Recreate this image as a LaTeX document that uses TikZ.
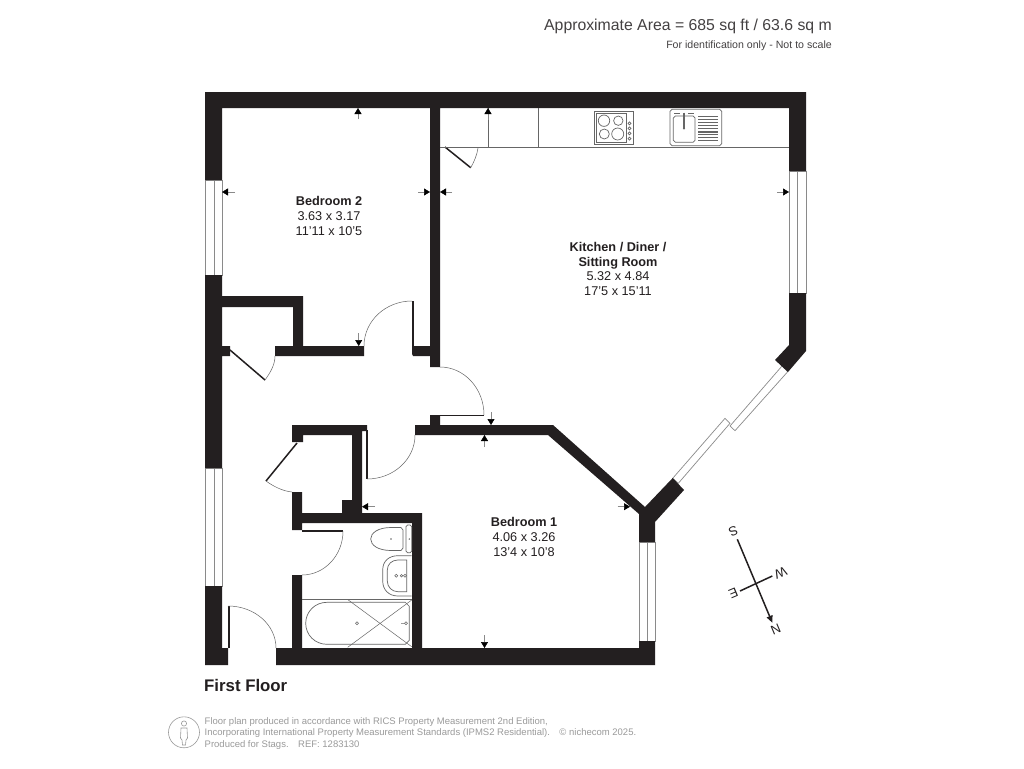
\documentclass[tikz,border=0pt]{standalone}
\usepackage{fontspec}
\setmainfont{Liberation Sans}
\usetikzlibrary{arrows.meta}
\definecolor{wallc}{HTML}{231F20}
\definecolor{linec}{HTML}{666666}
\definecolor{winc}{HTML}{8A8A8A}
\definecolor{footc}{HTML}{9A9A9A}
\tikzset{
  wall/.style={fill=wallc,draw=none},
  leaf/.style={draw=wallc,line width=1.5pt},
  swing/.style={draw=linec,line width=0.5pt},
  windowpane/.style={draw=winc,fill=white,line width=0.7pt},
  fixture/.style={draw=linec,line width=0.7pt},
  fixturethick/.style={draw=linec,line width=1.2pt},
  dimarrow/.style={draw=winc,line width=0.5pt,-{Triangle[length=6pt,width=7pt,color=black]}},
  room/.style={align=center,font=\fontsize{12.7}{14.7}\selectfont,text=wallc,inner sep=0pt},
  compassletter/.style={font=\fontsize{13}{13}\selectfont,text=wallc,inner sep=0pt,rotate=-157.2},
  footer/.style={font=\fontsize{9.5}{11.5}\selectfont,text=footc,align=left,anchor=north west,inner sep=0pt},
}
\begin{document}
\begin{tikzpicture}[x=1pt,y=-1pt]
\useasboundingbox (0,0) rectangle (1024,768);
\fill[white] (0,0) rectangle (1024,768);

% windows
\draw[windowpane] (205,180) rectangle (222,275) (214,180) -- (214,275);
\draw[windowpane] (205,468) rectangle (222,586) (214,468) -- (214,586);
\draw[windowpane] (789,171) rectangle (806,293) (797.5,171) -- (797.5,293);
\draw[windowpane] (639,542) rectangle (655,641) (647,542) -- (647,641);
\draw[windowpane] (782,366) -- (787.7,371.7) -- (735,430.7) -- (730,426) -- cycle;
\draw[windowpane] (725,418.3) -- (730,423.3) -- (678.3,483.3) -- (672.7,478.3) -- cycle;

% walls
\fill[wall] (205,92) -- (806,92) -- (806,171) -- (789,171) -- (789,108) -- (440,108) -- (440,367) -- (430,367) -- (430,108) -- (222,108) -- (222,180) -- (205,180) -- cycle;
\fill[wall] (205,275) -- (222,275) -- (222,296) -- (303,296) -- (303,346) -- (364,346) -- (364,356) -- (275,356) -- (275,346) -- (293,346) -- (293,307) -- (222,307) -- (222,346) -- (230,346) -- (230,356) -- (222,356) -- (222,468) -- (205,468) -- cycle;
\fill[wall] (412,346) -- (430,346) -- (430,356) -- (413,356) -- (412,354) -- cycle;
\fill[wall] (789,293) -- (806,293) -- (806,351) -- (788,372) -- (775,360) -- (789,345) -- cycle;
\fill[wall] (415,425) -- (430,425) -- (430,415) -- (440,415) -- (440,425) -- (553,425) -- (645,507) -- (672.7,478) -- (684,490) -- (655,522) -- (655,542) -- (639,542) -- (639,514) -- (548,435) -- (415,435) -- cycle;
\fill[wall] (205,586) -- (222,586) -- (222,648) -- (228,648) -- (228,665) -- (205,665) -- cycle;
\fill[wall] (292,492) -- (302,492) -- (302,513) -- (342,513) -- (342,500) -- (352,500) -- (352,435) -- (303,435) -- (303,442) -- (292,442) -- (292,425) -- (367,425) -- (367,431) -- (362,431) -- (362,513) -- (422,513) -- (422,648) -- (639,648) -- (639,641) -- (655,641) -- (655,665) -- (276,665) -- (276,648) -- (292,648) -- (292,575) -- (302,575) -- (302,648) -- (412,648) -- (412,523) -- (302,523) -- (302,530) -- (292,530) -- cycle;

% door leaves
\draw[leaf] (413,301) -- (413,346);
\draw[leaf] (435,415.5) -- (484,415.5);
\draw[leaf] (367,430) -- (367,479);
\draw[leaf] (302,531) -- (343,531);
\draw[leaf] (229,606) -- (229,648);
\draw[leaf] (230,350) -- (265,380);
\draw[leaf] (297,443) -- (266,481);
\draw[leaf] (445,147) -- (470.7,167.7);

% door swings
\draw[swing] (412,301) .. controls (385.5,301) and (364,321) .. (364,346);
\draw[swing] (440,367) .. controls (464.3,367) and (484,388.5) .. (484,415);
\draw[swing] (415,435) .. controls (415,459.3) and (393.5,479) .. (367,479);
\draw[swing] (343,531) .. controls (343,555.3) and (324.6,575) .. (302,575);
\draw[swing] (228,606) .. controls (254.5,606) and (276,624.8) .. (276,648);
\draw[swing] (265,380) .. controls (270,373) and (275,365) .. (275,356);
\draw[swing] (266,481) .. controls (273,486) and (282,491) .. (292,492);
\draw[swing] (470.7,167.7) .. controls (474,162) and (477,155) .. (478,148);

% kitchen worktop
\draw[fixture] (440,147) -- (789,147);
\draw[fixture] (488,108) -- (488,147);
\draw[fixture] (538.6,108) -- (538.6,147);
% hob
\draw[fixture] (594,111) rectangle (633,144);
\draw[fixture] (596.7,113.3) rectangle (626.7,142.7);
\draw[fixture] (604,120.7) circle[radius=5.7] (618.3,120.7) circle[radius=4.7] (604.3,134) circle[radius=5] (617.7,134) circle[radius=6];
\draw[fixture] (629.5,123.3) circle[radius=1.5] (629.5,128.3) circle[radius=1.5] (629.5,133.3) circle[radius=1.5] (629.5,138.7) circle[radius=1.5];
% sink
\draw[fixture] (672,109.3) -- (719.7,109.3) -- (721.7,111.3) -- (721.7,143.7) -- (719.7,145.7) -- (672,145.7) -- (670,143.7) -- (670,111.3) -- cycle;
\draw[fixture] (675.3,116) -- (693,116) -- (695,118) -- (695,140.3) -- (693,142.3) -- (675.3,142.3) -- (673.3,140.3) -- (673.3,118) -- cycle;
\draw[fixturethick] (684,112.7) -- (684,128);
\fill[linec] (684,128.5) circle[radius=1.2];
\draw[fixture] (674,113) -- (680,113) (688,113) -- (694,113);
\foreach \yy in {116,119,122,125,128,131,134,137,140}{\draw[fixture] (698.3,\yy) -- (718.3,\yy);}
\draw[fixturethick] (698.3,132) -- (718.3,132);
% bathroom
\draw[fixture] (302,599) -- (412,599);
\draw[fixture] (327,602.3) -- (405.3,602.3) -- (409.3,606.3) -- (409.3,640.3) -- (405.3,644.3) -- (327,644.3) .. controls (315,644.3) and (305.7,635) .. (305.7,623.3) .. controls (305.7,611.6) and (315,602.3) .. (327,602.3) -- cycle;
\draw[swing] (348.3,600) -- (411.7,646.7);
\draw[swing] (411.7,600) -- (347.7,647.3);
\draw[swing] (357,623.3) circle[radius=1.5];
\draw[swing] (406,623.3) circle[radius=1.5] (401,623.3) -- (404.5,623.3);
% toilet
\draw[fixture] (401,527.5) -- (391,527.5) .. controls (378,527.5) and (370.7,533) .. (370.7,539) .. controls (370.7,545) and (378,550.5) .. (391,550.5) -- (401,550.5) -- (403,548) -- (403,530) -- cycle;
\draw[fixture] (407.5,525) -- (410.2,525) -- (411.7,526.5) -- (411.7,551.2) -- (410.2,552.7) -- (407.5,552.7) -- (406,551.2) -- (406,526.5) -- cycle;
\fill[linec] (391,539) circle[radius=0.8] (409.3,539) circle[radius=0.8];
% basin
\draw[fixture] (411.7,555.7) -- (398,555.7) .. controls (389,555.7) and (382.7,561) .. (382.7,570) -- (382.7,581) .. controls (382.7,590) and (389,596) .. (398,596) -- (411.7,596);
\draw[fixture] (406.7,560) -- (398,560) .. controls (392,560) and (387.3,564) .. (387.3,570) -- (387.3,581) .. controls (387.3,587) and (392,591.7) .. (398,591.7) -- (406.7,591.7) -- cycle;
\draw[swing] (396.3,575.7) circle[radius=1.5] (405,575.7) circle[radius=1.5] (401.5,575.7) circle[radius=1.2];

% dimension arrows
\draw[dimarrow] (358,119) -- (358,108);
\draw[dimarrow] (235,192) -- (222,192);
\draw[dimarrow] (418,192) -- (430,192);
\draw[dimarrow] (452,192) -- (440,192);
\draw[dimarrow] (777,192) -- (789,192);
\draw[dimarrow] (488,120) -- (488,108);
\draw[dimarrow] (358.7,333) -- (358.7,346);
\draw[dimarrow] (491,412) -- (491,425);
\draw[dimarrow] (484.5,447) -- (484.5,435);
\draw[dimarrow] (375,506.7) -- (362,506.7);
\draw[dimarrow] (617.7,506.7) -- (630,506.7);
\draw[dimarrow] (484.5,635) -- (484.5,648);

% compass
\coordinate (compassS) at (737.3,539.3);
\coordinate (compassN) at (772.3,622.7);
\coordinate (compassE) at (740,591);
\coordinate (compassW) at (772.3,576);
\draw[wallc,line width=1.5pt,-{Triangle[length=7pt,width=6pt]}] (compassS) -- (compassN);
\draw[wallc,line width=1.5pt] (compassE) -- (compassW);
\node[compassletter] (letterS) at (733.3,531.7) {S};
\node[compassletter] (letterN) at (775.7,629) {N};
\node[compassletter] (letterW) at (780.7,573.3) {W};
\node[compassletter] (letterE) at (733.3,593.3) {E};

% room labels
\node[room] (bed2) at (329,216) {\textbf{Bedroom 2}\\3.63 x 3.17\\11'11 x 10'5};
\node[room] (kitchen) at (618,269) {\textbf{Kitchen / Diner /}\\\textbf{Sitting Room}\\5.32 x 4.84\\17'5 x 15'11};
\node[room] (bed1) at (524,537) {\textbf{Bedroom 1}\\4.06 x 3.26\\13'4 x 10'8};

% titles
\node[anchor=east,inner sep=0pt,font=\fontsize{15.8}{15.8}\selectfont,text=wallc!85!white] (area) at (832,26) {Approximate Area = 685 sq ft / 63.6 sq m};
\node[anchor=east,inner sep=0pt,font=\fontsize{10.6}{10.6}\selectfont,text=wallc!85!white] (idnote) at (832,46) {For identification only - Not to scale};
\node[anchor=west,inner sep=0pt,font=\bfseries\fontsize{16.8}{16.8}\selectfont,text=wallc] (floor) at (204,685) {First Floor};

% footer
\node[footer] (foot) at (204.5,717) {Floor plan produced in accordance with RICS Property Measurement 2nd Edition,\\Incorporating International Property Measurement Standards (IPMS2 Residential).\quad © nichecom 2025.\\Produced for Stags.\quad REF: 1283130};
\draw[footc,line width=0.6pt] (184,732.3) circle[radius=15.5];
\draw[footc,line width=0.6pt] (184,723.5) circle[radius=2.6];
\draw[footc,line width=0.6pt] (181,728) -- (187,728) -- (187.5,738) -- (186,740) -- (185.5,745) -- (182.5,745) -- (182,740) -- (180.5,738) -- cycle;
\end{tikzpicture}
\end{document}
